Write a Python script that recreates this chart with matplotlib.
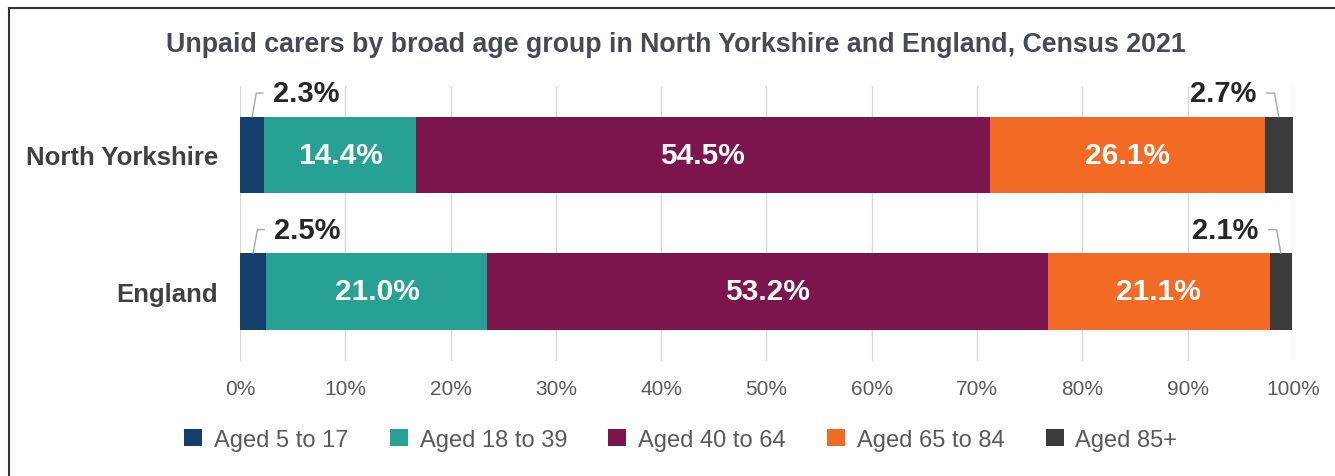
import matplotlib.pyplot as plt
from matplotlib.lines import Line2D
from matplotlib.patches import Patch

plt.rcParams['font.family'] = ['Liberation Sans', 'DejaVu Sans']

# data
areas = ['North Yorkshire', 'England']
groups = ['Aged 5 to 17', 'Aged 18 to 39', 'Aged 40 to 64', 'Aged 65 to 84', 'Aged 85+']
north_yorkshire = [2.3, 14.4, 54.5, 26.1, 2.7]
england = [2.5, 21.0, 53.2, 21.1, 2.1]
colors = ['#143f6b', '#27a193', '#7c154d', '#f26a23', '#3b3b3b']
xticks = list(range(0, 101, 10))

values = [north_yorkshire, england]

fig = plt.figure(figsize=(13.35, 4.77), dpi=100)
ax = fig.add_axes([0.1798, 0.241, 0.9685 - 0.1798, 0.8176 - 0.241])

bar_h = 0.56
for i, row in enumerate(values):
    left = 0
    for j, v in enumerate(row):
        ax.barh(i, v, left=left, height=bar_h, color=colors[j], zorder=3)
        cx = left + v / 2
        if j in (1, 2, 3):
            ax.text(cx, i, f'{v:.1f}%', ha='center', va='center', color='white',
                    fontsize=21.5, fontweight='bold', zorder=4)
        elif j == 0:
            ax.annotate(f'{v:.1f}%', xy=(cx, i - bar_h / 2), xytext=(15, 17),
                        textcoords='offset points', ha='left', va='center',
                        fontsize=21, fontweight='bold', color='#262626',
                        arrowprops=dict(arrowstyle='-', color='#a6a6a6', lw=1,
                                        relpos=(0, 0.5), shrinkA=5, shrinkB=0,
                                        connectionstyle='angle,angleA=0,angleB=80,rad=0'))
        else:
            ax.annotate(f'{v:.1f}%', xy=(cx, i - bar_h / 2), xytext=(-16, 17),
                        textcoords='offset points', ha='right', va='center',
                        fontsize=21, fontweight='bold', color='#262626',
                        arrowprops=dict(arrowstyle='-', color='#a6a6a6', lw=1,
                                        relpos=(1, 0.5), shrinkA=5, shrinkB=0,
                                        connectionstyle='angle,angleA=0,angleB=100,rad=0'))
        left += v

ax.set_xlim(0, 100)
ax.set_ylim(1.51, -0.505)
ax.set_xticks(xticks)
ax.set_xticklabels([f'{t}%' for t in xticks])
ax.set_yticks(range(len(areas)))
ax.set_yticklabels(areas)
ax.tick_params(axis='x', length=0, pad=13, labelsize=15, labelcolor='#595959')
ax.tick_params(axis='y', length=0, pad=16, labelsize=18.5, labelcolor='#404040')
for lab in ax.get_yticklabels():
    lab.set_fontweight('bold')
for s in ax.spines.values():
    s.set_visible(False)
ax.grid(axis='x', color='#d9d9d9', lw=1, zorder=0)
ax.set_axisbelow(True)

fig.text(0.5066, 1 - 45 / 477,
         'Unpaid carers by broad age group in North Yorkshire and England, Census 2021',
         ha='center', va='center', fontsize=19.3, fontweight='bold', color='#464a54')

handles = [Patch(facecolor=c, edgecolor='none') for c in colors]
fig.legend(handles, groups, loc='center', bbox_to_anchor=(0.510, 1 - 441 / 477),
           ncol=5, frameon=False, fontsize=17, labelcolor='#595959',
           handlelength=0.76, handleheight=0.76, handletextpad=0.5, columnspacing=1.75)

# outer frame (top and left edges)
fig.add_artist(Line2D([0.0067, 1], [0.981, 0.981], transform=fig.transFigure, color='#333333', lw=1.5))
fig.add_artist(Line2D([0.0067, 0.0067], [0, 0.981], transform=fig.transFigure, color='#333333', lw=1.5))

fig.savefig('out.png', dpi=100)
